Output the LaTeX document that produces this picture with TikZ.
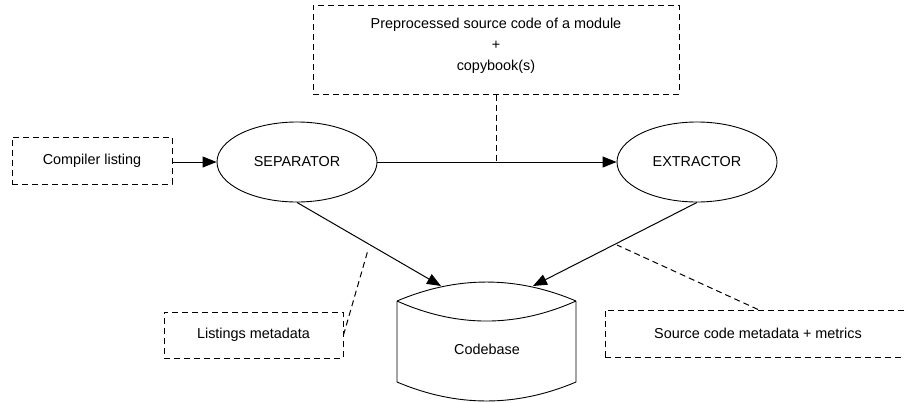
\documentclass[tikz,border=0pt]{standalone}
\usepackage{fontspec}
\setmainfont{Liberation Sans}
\usetikzlibrary{shapes.geometric,arrows.meta}
\begin{document}
\begin{tikzpicture}[x=1pt,y=-1pt,
  every node/.style={font=\fontsize{14.4}{21}\selectfont, inner sep=0pt},
  notebox/.style={draw, dashed, dash pattern=on 6pt off 4pt, line width=1pt, rectangle},
  procnode/.style={draw, ellipse, line width=0.9pt, minimum width=160pt, minimum height=80pt},
  flow/.style={line width=1pt, -{Triangle[length=14pt,width=11pt]}},
  callout/.style={line width=1pt, dashed, dash pattern=on 6pt off 4pt}]
\useasboundingbox (0,0) rectangle (904,402);

% process ellipses
\node[procnode] (sep) at (297,162) {SEPARATOR};
\node[procnode] (ext) at (697,162) {EXTRACTOR};

% input and annotation boxes
\node[notebox, minimum width=160pt, minimum height=47pt] (cl) at (92,160.5) {Compiler listing};
\node[notebox, minimum width=366pt, minimum height=89pt] (top) at (496,49.5) {};
\node[align=center] (toptext) at (496,46) {Preprocessed source code of a module\\+\\copybook(s)};
\node[notebox, minimum width=179pt, minimum height=46pt] (lm) at (253.5,335) {Listings metadata};
\node[notebox, minimum width=306pt, minimum height=47pt] (src) at (758,333.5) {Source code metadata + metrics};

% codebase store
\draw[line width=0.9pt]
  (397,301) .. controls (456.7,275.7) and (516.3,275.7) .. (576,301)
  (397,301) .. controls (456.7,327.7) and (516.3,327.7) .. (576,301)
  (397,301) -- (397,382) .. controls (456.7,407.3) and (516.3,407.3) .. (576,382) -- (576,301);
\node (db) at (487,349) {Codebase};
\coordinate (dbL) at (441,286);
\coordinate (dbR) at (533,286);

% flows
\draw[flow] (cl.east |- sep) -- (sep.west);
\draw[flow] (sep.east) -- (ext.west);
\draw[flow] (sep.south) -- (dbL);
\draw[flow] (ext.south) -- (dbR);

% callout leaders
\coordinate (topfoot) at (top.south |- sep.east);
\draw[callout] (top.south) -- (topfoot);
\coordinate (lmtip) at (368,250);
\draw[callout] (lm.east) -- (lmtip);
\coordinate (srctip) at (617,245);
\draw[callout] (src.north) -- (srctip);
\end{tikzpicture}
\end{document}
